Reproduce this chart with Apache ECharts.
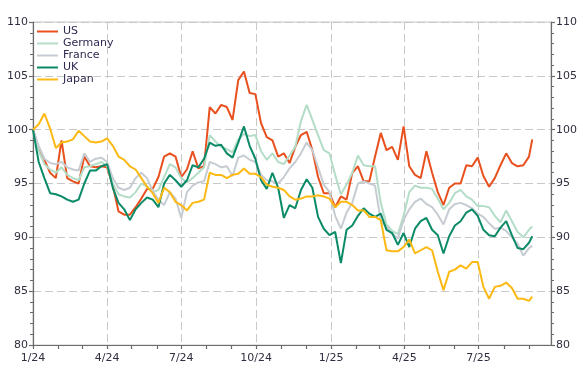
<!DOCTYPE html>
<html><head><meta charset="utf-8">
<script src="https://cdn.jsdelivr.net/npm/echarts@6/dist/echarts.min.js"></script>
<style>html,body{margin:0;padding:0;background:#fff}#c{width:583px;height:373px}</style>
</head><body><div id="c"></div>
<script>
// Weekly observation dates (Mondays from 2024-01-01), plus final observation
const firstDate = '2024-01-01';
const weeksCount = 88;
const lastDate = '2025-09-05';

const seriesNames = ['US', 'Germany', 'France', 'UK', 'Japan'];

const usValues = [100.0,98.3,97.2,96.0,95.5,99.0,95.5,95.2,95.0,97.5,96.6,96.5,96.6,96.5,94.8,92.4,92.1,92.1,92.8,93.6,
94.5,94.5,95.6,97.5,97.8,97.5,95.6,96.3,98.0,96.4,96.6,102.1,101.5,102.3,102.1,100.9,104.6,105.4,103.4,103.3,
100.6,99.3,99.0,97.5,97.8,96.9,98.4,99.5,99.8,98.1,95.6,94.1,94.1,92.8,93.8,93.5,96.0,96.6,95.2,95.2,
97.5,99.7,98.1,98.4,97.2,100.3,96.6,95.8,95.5,98.0,96.0,94.2,93.0,94.6,95.0,95.0,96.7,96.6,97.4,95.7,
94.7,95.5,96.7,97.8,96.9,96.6,96.7,97.5,99.1];

const germanyValues = [100.0,98.0,96.8,96.3,96.0,96.5,95.8,95.5,95.3,96.5,96.6,96.8,97.0,96.6,95.0,94.0,93.8,93.7,94.2,95.0,
94.7,94.2,94.4,95.6,96.8,96.5,95.5,95.1,95.5,96.0,96.5,99.5,98.9,98.4,98.2,97.9,99.1,99.6,99.4,99.5,
98.0,97.2,97.8,97.0,96.8,97.6,98.4,100.8,102.3,100.9,99.5,98.1,97.8,95.8,94.0,94.9,96.0,97.6,96.7,96.6,
96.6,93.2,91.2,90.6,90.3,92.0,94.2,94.8,94.6,94.6,94.5,93.6,92.6,93.2,94.1,94.4,93.8,93.5,92.9,92.9,
92.8,92.0,91.4,92.5,91.5,90.5,90.0,90.7,91.0];

const franceValues = [100.0,98.5,97.3,96.9,96.8,97.0,96.5,96.3,96.2,97.8,97.0,97.3,97.4,97.0,95.5,94.6,94.4,94.6,95.5,96.0,
95.5,94.3,93.5,93.0,94.2,93.6,91.8,94.2,94.8,95.1,95.2,97.0,96.8,96.5,96.6,95.7,97.4,97.6,97.2,97.0,
95.8,95.3,95.2,95.0,95.6,96.4,97.0,97.8,98.8,98.1,96.5,94.9,94.2,92.0,90.8,92.3,93.2,95.0,95.2,95.0,
94.8,91.5,91.0,90.3,89.9,91.6,92.6,93.3,93.6,93.1,92.8,92.1,91.2,92.6,93.1,93.2,93.0,92.7,92.2,91.9,
91.3,90.8,90.9,90.6,90.0,89.4,88.3,89.0,89.2];

const ukValues = [100.0,97.0,95.5,94.1,94.0,93.8,93.5,93.3,93.5,95.0,96.2,96.2,96.6,96.8,94.6,93.2,92.6,91.6,92.6,93.2,
93.7,93.5,92.8,95.0,95.8,95.3,94.7,95.3,96.7,96.5,97.3,98.8,98.5,98.6,97.8,97.4,98.8,100.3,98.5,97.3,
95.3,94.5,96.0,94.6,91.8,93.0,92.7,94.4,95.4,94.6,91.9,90.8,90.2,90.5,87.6,90.7,91.1,92.0,92.7,92.2,
91.9,92.2,90.7,90.4,89.3,90.4,89.1,90.8,91.5,91.8,90.7,90.2,88.5,90.1,91.1,91.5,92.3,92.6,92.0,90.7,
90.2,90.1,90.9,91.5,90.2,89.0,88.9,89.5,90.1];

const japanValues = [100.0,100.5,101.5,100.1,98.3,98.8,98.9,99.1,99.9,99.4,98.9,98.8,98.9,99.2,98.5,97.5,97.2,96.6,96.3,95.5,
94.7,94.1,93.2,94.6,94.2,93.3,93.0,92.5,93.2,93.3,93.5,96.0,95.8,95.8,95.5,95.8,95.9,96.4,95.9,95.9,
95.6,94.9,94.7,94.6,94.4,93.8,93.5,93.6,93.8,93.8,93.9,93.8,93.6,92.8,93.3,93.3,93.0,92.5,92.5,91.9,
91.9,91.6,88.8,88.7,88.7,89.1,89.8,88.5,88.8,89.1,88.8,86.8,85.1,86.8,87.0,87.4,87.1,87.7,87.7,85.4,
84.3,85.4,85.5,85.8,85.3,84.3,84.3,84.1,84.5];

const seriesColors = ['#E8501E', '#B4DDC8', '#C6CCD2', '#0B8A67', '#FDB913'];

const monthTicks = ['2024-01-01','2024-02-01','2024-03-01','2024-04-01','2024-05-01','2024-06-01','2024-07-01',
'2024-08-01','2024-09-01','2024-10-01','2024-11-01','2024-12-01','2025-01-01','2025-02-01','2025-03-01',
'2025-04-01','2025-05-01','2025-06-01','2025-07-01','2025-08-01','2025-09-01'];
const quarterTicks = ['2024-01-01','2024-04-01','2024-07-01','2024-10-01','2025-01-01','2025-04-01','2025-07-01'];
const xMin = '2024-01-01';
const xMax = '2025-09-28';

function pad(n){ return (n < 10 ? '0' : '') + n; }
function ts(s){ const p = s.split('-'); return Date.UTC(+p[0], +p[1] - 1, +p[2]); }

const dates = [];
for (let k = 0; k < weeksCount; k++) {
  const d = new Date(Date.UTC(2024, 0, 1 + 7 * k));
  dates.push(d.getUTCFullYear() + '-' + pad(d.getUTCMonth() + 1) + '-' + pad(d.getUTCDate()));
}
dates.push(lastDate);

const allValues = [usValues, germanyValues, franceValues, ukValues, japanValues];

const labelFont = { fontFamily: 'DejaVu Sans', fontSize: 11, color: '#2f2f3f' };
const gridDash = { color: '#c8c8c8', type: [8, 4], width: 1 };
const axisLineStyle = { color: '#6b6b6b', width: 1.2 };

function yAxisCfg(pos) {
  return {
    type: 'value', position: pos, min: 80, max: 110, interval: 5,
    axisLine: { show: true, lineStyle: axisLineStyle },
    axisTick: { show: true, inside: false, length: 4, lineStyle: axisLineStyle },
    minorTick: { show: true, splitNumber: 5, length: 3, lineStyle: { color: '#6b6b6b' } },
    axisLabel: Object.assign({ margin: 5 }, labelFont),
    splitLine: { show: pos === 'left', lineStyle: gridDash }
  };
}

function dateLabel(v) {
  const d = new Date(v);
  return (d.getUTCMonth() + 1) + '/' + String(d.getUTCFullYear()).slice(2);
}

const chart = echarts.init(document.getElementById('c'), null, { renderer: 'canvas' });
chart.setOption({
  animation: false,
  backgroundColor: '#ffffff',
  grid: { left: 33, right: 32, top: 22, bottom: 28, show: true, borderColor: '#c8c8c8', borderWidth: 1, containLabel: false },
  legend: {
    orient: 'vertical', left: 32, top: 21, itemGap: 1, itemWidth: 21, itemHeight: 13,
    icon: 'path://M0,6 L21,6 L21,8 L0,8 Z',
    data: seriesNames,
    textStyle: { fontFamily: 'DejaVu Sans', fontSize: 11, color: '#2e2a50' }
  },
  xAxis: [
    {
      type: 'value', min: ts(xMin), max: ts(xMax),
      axisLine: { show: true, lineStyle: axisLineStyle },
      axisTick: { show: true, length: 4, customValues: monthTicks.map(ts), lineStyle: axisLineStyle },
      axisLabel: Object.assign({
        customValues: quarterTicks.map(ts), margin: 8, hideOverlap: false,
        showMinLabel: true, showMaxLabel: true,
        formatter: dateLabel
      }, labelFont),
      splitLine: { show: false }
    },
    {
      type: 'value', min: ts(xMin), max: ts(xMax), position: 'bottom',
      axisLine: { show: false }, axisLabel: { show: false },
      axisTick: { show: false, customValues: quarterTicks.concat([xMax]).map(ts) },
      splitLine: { show: true, lineStyle: gridDash }
    }
  ],
  yAxis: [yAxisCfg('left'), yAxisCfg('right')],
  series: seriesNames.map(function (name, i) {
    return {
      name: name, type: 'line', xAxisIndex: 0, yAxisIndex: 0,
      showSymbol: false, symbol: 'none',
      lineStyle: { width: 2, color: seriesColors[i] },
      itemStyle: { color: seriesColors[i] },
      data: dates.map(function (d, j) { return [ts(d), allValues[i][j]]; })
    };
  })
});
</script>
</body></html>
